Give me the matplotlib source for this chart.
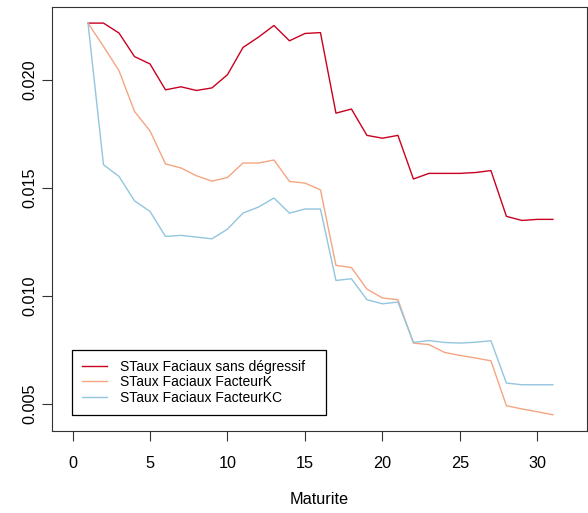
import numpy as np
import matplotlib.pyplot as plt

plt.rcParams['font.family'] = ['Liberation Sans', 'DejaVu Sans']

# maturities 1..31 and the three rate curves
maturite = np.arange(1, 32)
sans_degressif = [0.02264, 0.02264, 0.02218, 0.02109, 0.02075, 0.01955, 0.01969, 0.01952,
                  0.01964, 0.02025, 0.02151, 0.02199, 0.02253, 0.02182, 0.02216, 0.02220,
                  0.01847, 0.01866, 0.01744, 0.01731, 0.01744, 0.01542, 0.01568, 0.01568,
                  0.01568, 0.01572, 0.01581, 0.01369, 0.01350, 0.01355, 0.01355]
facteur_k = [0.02264, 0.02156, 0.02044, 0.01855, 0.01765, 0.01612, 0.01593, 0.01557,
             0.01532, 0.01549, 0.01616, 0.01616, 0.01630, 0.01531, 0.01523, 0.01492,
             0.01142, 0.01132, 0.01032, 0.00991, 0.00983, 0.00782, 0.00775, 0.00739,
             0.00725, 0.00713, 0.00700, 0.00492, 0.00477, 0.00464, 0.00450]
facteur_kc = [0.02264, 0.01608, 0.01554, 0.01441, 0.01392, 0.01276, 0.01281, 0.01273,
              0.01265, 0.01310, 0.01384, 0.01412, 0.01454, 0.01384, 0.01403, 0.01403,
              0.01072, 0.01080, 0.00983, 0.00964, 0.00972, 0.00785, 0.00794, 0.00785,
              0.00782, 0.00786, 0.00793, 0.00597, 0.00589, 0.00589, 0.00589]

labels = ['STaux Faciaux sans dégressif', 'STaux Faciaux FacteurK', 'STaux Faciaux FacteurKC']
colors = ['#CA0020', '#F4A582', '#92C5DE']

W, H = 588, 513
fig = plt.figure(figsize=(W / 100, H / 100), dpi=100)
ax = fig.add_axes([52.2 / W, (H - 431) / H, (587 - 52.2) / W, (431 - 6.7) / H])

for y, c, lab in zip([sans_degressif, facteur_k, facteur_kc], colors, labels):
    ax.plot(maturite, y, color=c, lw=1.0, label=lab)

ax.set_xlim(-1.31, 33.2)
ax.set_ylim(0.003749, 0.02340)
ax.set_xticks([0, 5, 10, 15, 20, 25, 30])
ax.set_yticks([0.005, 0.010, 0.015, 0.020])
ax.set_yticklabels(['0.005', '0.010', '0.015', '0.020'], rotation=90, va='center')
ax.tick_params(axis='both', labelsize=11.7, length=7, width=0.8, color='#333333')
ax.tick_params(axis='x', pad=11)
ax.tick_params(axis='y', pad=4)
for s in ax.spines.values():
    s.set_linewidth(0.8)
    s.set_color('#333333')

ax.set_xlabel('Maturite', fontsize=11.7, labelpad=15)

# legend box stretched to a fixed width, anchored near the lower-left corner
leg = ax.legend(loc='lower left', bbox_to_anchor=(0.0376, 0.0377, 0.4738, 0.15),
                mode='expand', borderaxespad=0,
                fontsize=10, frameon=True, fancybox=False, edgecolor='black',
                framealpha=1, handlelength=1.75, handletextpad=0.95,
                borderpad=0.72, labelspacing=0.12)
leg.get_frame().set_linewidth(0.9)

fig.savefig('out.png', dpi=100)
